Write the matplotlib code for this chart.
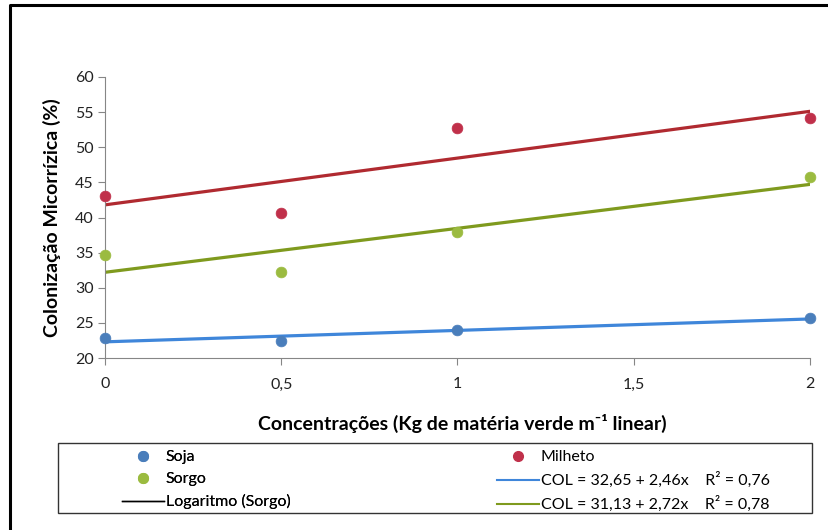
import numpy as np
import matplotlib
matplotlib.use('Agg')
import matplotlib.pyplot as plt
from matplotlib.lines import Line2D
from matplotlib.patches import Rectangle

# dados
conc = [0, 0.5, 1, 2]
soja = [22.8, 22.4, 24.0, 25.7]
milheto = [43.0, 40.7, 52.7, 54.1]
sorgo = [34.7, 32.3, 38.0, 45.7]

yticks = [20, 25, 30, 35, 40, 45, 50, 55, 60]
xticks = [0, 0.5, 1, 1.5, 2]
xticklabels = ["0", "0,5", "1", "1,5", "2"]

eq_soja = "COL = 32,65 + 2,46x    R² = 0,76"
eq_sorgo = "COL = 31,13 + 2,72x    R² = 0,78"

c_soja, c_mil, c_sorgo = "#4A7EBB", "#C0304A", "#9BBB40"
l_soja, l_mil, l_sorgo = "#3F86DA", "#B02A30", "#7F9A1E"

plt.rcParams['font.family'] = ['Lato', 'DejaVu Sans']

W, H = 829, 530
fig = plt.figure(figsize=(W / 100, H / 100), dpi=100)
ax = fig.add_axes([105 / W, 1 - 358 / H, (810 - 105) / W, (358 - 77) / H])

xs = np.array(conc, dtype=float)
xl = np.linspace(0, 2, 50)
for ys, lc in [(milheto, l_mil), (sorgo, l_sorgo), (soja, l_soja)]:
    b, a = np.polyfit(xs, ys, 1)
    ax.plot(xl, a + b * xl, color=lc, lw=2.3, solid_capstyle='round', zorder=2)

for ys, mc in [(soja, c_soja), (milheto, c_mil), (sorgo, c_sorgo)]:
    ax.scatter(conc, ys, s=60, color=mc, edgecolors=mc, linewidths=0.5, zorder=3, clip_on=False)

ax.set_xlim(0, 2)
ax.set_ylim(20, 60)
ax.set_yticks(yticks)
ax.set_xticks(xticks)
ax.set_xticklabels(xticklabels)
for s in ['top', 'right']:
    ax.spines[s].set_visible(False)
for s in ['left', 'bottom']:
    ax.spines[s].set_color('#868686')
ax.tick_params(axis='both', colors='#868686', labelcolor='#222222', labelsize=11.5, length=5, direction='out')
ax.tick_params(axis='x', pad=9)
ax.tick_params(axis='y', pad=3)

ax.set_ylabel("Colonização Micorrízica (%)", fontsize=14, fontweight='bold', labelpad=10)
fig.text(462 / W, 1 - 423 / H, "Concentrações (Kg de matéria verde m⁻¹ linear)",
         fontsize=14, fontweight='bold', ha='center', va='center')

# moldura externa
fig.add_artist(Line2D([10 / W, 10 / W, 1], [0, 1 - 5 / H, 1 - 5 / H], color='black', lw=2.2))

# caixa da legenda
fig.add_artist(Rectangle((58 / W, 1 - 513 / H), (812 - 58) / W, 70 / H,
                         transform=fig.transFigure, fill=False, edgecolor='#333333', lw=1))

h_soja = Line2D([], [], ls='none', marker='o', ms=7, color=c_soja)
h_sorgo = Line2D([], [], ls='none', marker='o', ms=7, color=c_sorgo)
h_log = Line2D([], [], color='black', lw=1)
h_mil = Line2D([], [], ls='none', marker='o', ms=7, color=c_mil)
h_eq1 = Line2D([], [], color=l_soja, lw=1.5)
h_eq2 = Line2D([], [], color=l_sorgo, lw=1.5)

kw = dict(frameon=False, loc='upper left', handlelength=2.6, handletextpad=0.15,
          labelspacing=0.5, borderpad=0, borderaxespad=0,
          prop={'family': ['Lato', 'DejaVu Sans'], 'size': 11.5})
leg1 = fig.legend([h_soja, h_sorgo, h_log], ["Soja", "Sorgo", "Logaritmo (Sorgo)"],
                  bbox_to_anchor=(122 / W, 1 - 450 / H), **kw)
fig.add_artist(leg1)
fig.legend([h_mil, h_eq1, h_eq2], ["Milheto", eq_soja, eq_sorgo],
           bbox_to_anchor=(497 / W, 1 - 450 / H), **kw)

fig.savefig("out.png", dpi=100)
